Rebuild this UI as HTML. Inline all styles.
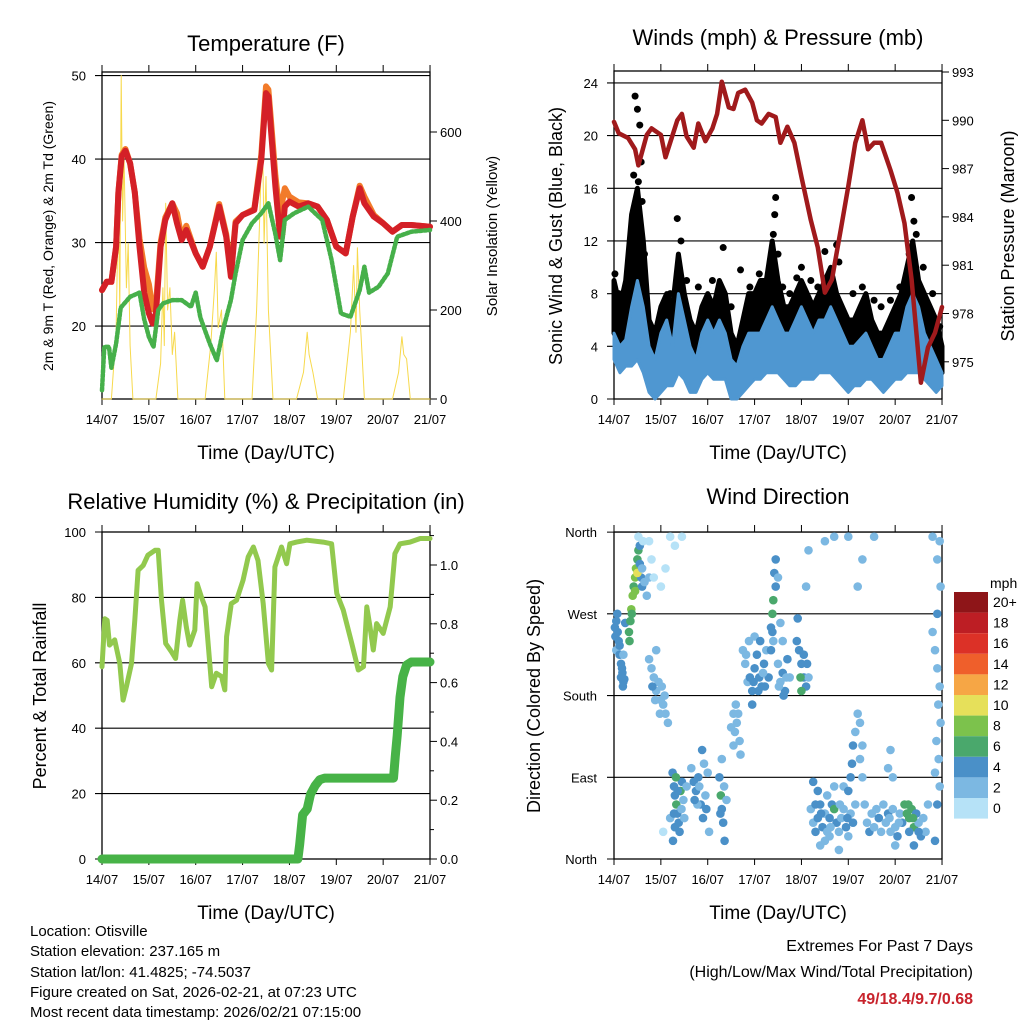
<!DOCTYPE html>
<html><head><meta charset="utf-8">
<style>
body{margin:0;background:#fff;}
svg{display:block;font-family:"Liberation Sans",sans-serif;}
</style></head>
<body>
<svg id="c" width="1024" height="1024" viewBox="0 0 1024 1024" xmlns="http://www.w3.org/2000/svg">
<rect width="1024" height="1024" fill="#fff"/>
<text x="266" y="51" font-size="22" text-anchor="middle">Temperature (F)</text>
<text x="778" y="45" font-size="22" text-anchor="middle">Winds (mph) &amp; Pressure (mb)</text>
<text x="266" y="509" font-size="22" text-anchor="middle">Relative Humidity (%) &amp; Precipitation (in)</text>
<text x="778" y="504" font-size="22" text-anchor="middle">Wind Direction</text>
<text x="266" y="459" font-size="19" text-anchor="middle">Time (Day/UTC)</text>
<text x="778" y="459" font-size="19" text-anchor="middle">Time (Day/UTC)</text>
<text x="266" y="919" font-size="19" text-anchor="middle">Time (Day/UTC)</text>
<text x="778" y="919" font-size="19" text-anchor="middle">Time (Day/UTC)</text>
<text transform="translate(53,236) rotate(-90)" font-size="14" text-anchor="middle">2m &amp; 9m T (Red, Orange) &amp; 2m Td (Green)</text>
<text transform="translate(497,236) rotate(-90)" font-size="15" text-anchor="middle">Solar Insolation (Yellow)</text>
<text transform="translate(562,236) rotate(-90)" font-size="18" text-anchor="middle">Sonic Wind &amp; Gust (Blue, Black)</text>
<text transform="translate(1014,236) rotate(-90)" font-size="18" text-anchor="middle">Station Pressure (Maroon)</text>
<text transform="translate(46,696) rotate(-90)" font-size="18" text-anchor="middle">Percent &amp; Total Rainfall</text>
<text transform="translate(540,696) rotate(-90)" font-size="18" text-anchor="middle">Direction (Colored By Speed)</text>
<g font-size="15">
<text x="30" y="936">Location: Otisville</text>
<text x="30" y="956">Station elevation: 237.165 m</text>
<text x="30" y="977">Station lat/lon: 41.4825; -74.5037</text>
<text x="30" y="997">Figure created on Sat, 2026-02-21, at 07:23 UTC</text>
<text x="30" y="1017">Most recent data timestamp: 2026/02/21 07:15:00</text>
</g>
<g font-size="16" text-anchor="end">
<text x="973" y="951">Extremes For Past 7 Days</text>
<text x="973" y="977">(High/Low/Max Wind/Total Precipitation)</text>
<text x="973" y="1004" fill="#c8232c" font-weight="bold">49/18.4/9.7/0.68</text>
</g>
<text x="990" y="588" font-size="14">mph</text>
<g id="layer"></g>
</svg>
<script>
// ---------- data ----------
const dayLabels=["14/07","15/07","16/07","17/07","18/07","19/07","20/07","21/07"];
const tempTimes=[0,0.1,0.2,0.3,0.35,0.42,0.5,0.6,0.7,0.8,0.9,1.0,1.08,1.15,1.25,1.35,1.5,1.6,1.7,1.8,2.0,2.15,2.3,2.5,2.65,2.75,2.85,3.0,3.25,3.4,3.5,3.55,3.6,3.7,3.8,3.85,3.9,4.0,4.2,4.4,4.6,4.8,5.0,5.2,5.35,5.5,5.6,5.8,6.0,6.2,6.4,6.6,7.0];
const tempRed=[24.3,25.3,25.3,29.5,36,40.3,41,39.5,36,29.5,24,21.5,20.3,21.5,29.5,32.7,34.7,32.3,30.3,31.5,28.7,27.1,29.5,34.3,30.7,25.9,32.3,33.3,33.9,39.9,47.9,47.5,43.9,36.7,30.7,31,34.3,34.9,34.3,34.7,34.3,32.7,29.5,28.7,33.1,36.5,34.7,33.1,32.3,31.3,32.1,32.1,31.9];
const tempOrange=[24.3,25.3,25.3,29.5,36,40.5,41.2,39.5,36,30.5,27,25,22,22.5,30,33,34.7,33.5,30.5,32,28.7,27.1,29.5,34.6,31,26.5,32.5,33.3,34,40.5,48.7,48.3,45,38,33,35,36.5,35.5,34.8,34.7,34.3,32.7,29.5,28.7,33.1,36.8,35.5,33.3,32.3,31.3,32.1,32.1,31.9];
const dewTimes=[0,0.05,0.15,0.2,0.3,0.4,0.6,0.8,0.9,1.0,1.1,1.2,1.3,1.5,1.7,1.9,2.0,2.1,2.3,2.45,2.6,2.75,2.85,3.0,3.2,3.4,3.55,3.7,3.8,3.9,4.1,4.4,4.7,4.9,5.1,5.3,5.5,5.6,5.7,5.9,6.1,6.3,6.6,7.0];
const dewValues=[12.3,17.5,17.5,15,17.9,22.2,23.5,24,20.8,18.7,17.5,21.9,22.7,23.1,23.1,22.3,24,21,17.9,15.9,19.9,23.1,26.3,30.3,32.3,33.5,34.7,31,27.9,32.7,33.5,34.3,32.7,27.9,21.5,21.1,24.3,27.1,24,24.7,26.3,30.7,31.3,31.5];
const solarTimes=[0,0.2,0.3,0.35,0.38,0.41,0.44,0.47,0.52,0.56,0.6,0.66,1.15,1.25,1.3,1.33,1.36,1.4,1.45,1.5,1.55,1.62,2.2,2.32,2.4,2.44,2.48,2.55,2.62,3.2,3.3,3.37,3.42,3.46,3.5,3.55,3.65,4.15,4.3,4.38,4.42,4.5,4.6,5.15,5.3,5.37,5.42,5.45,5.5,5.6,6.2,6.33,6.4,6.44,6.5,6.58,7.0];
const solarValues=[0,0,150,450,200,727,400,550,250,350,120,0,0,80,250,120,440,200,250,100,150,0,0,120,250,330,160,200,0,0,200,420,620,350,500,200,0,0,60,150,100,60,0,0,150,300,150,340,200,0,0,60,140,100,90,0,0];
const presTimes=[0,0.1,0.3,0.45,0.52,0.7,0.8,1.0,1.1,1.35,1.45,1.55,1.7,1.8,1.95,2.1,2.2,2.3,2.45,2.55,2.65,2.8,2.95,3.05,3.15,3.3,3.45,3.55,3.7,3.85,4.0,4.2,4.35,4.5,4.65,4.85,5.0,5.15,5.3,5.42,5.55,5.7,5.9,6.05,6.2,6.35,6.55,6.7,6.85,7.0];
const presValues=[989.9,989.2,988.9,988.2,987.2,989.1,989.5,989.1,987.7,990,990.4,989,988.3,989.8,988.7,989.5,990.4,992.4,990.8,990.7,991.7,991.9,991.1,990,989.8,990.4,990.2,988.6,989.6,988.6,986.5,983.8,982.1,979.3,980.1,983.4,985.9,988.6,990,988.2,988.6,988.6,986.9,985.5,983.6,980.1,973.7,975.9,976.8,978.4];
const windTimes=[0,0.125,0.25,0.375,0.5,0.625,0.75,0.875,1,1.125,1.25,1.375,1.5,1.625,1.75,1.875,2,2.125,2.25,2.375,2.5,2.625,2.75,2.875,3,3.125,3.25,3.375,3.5,3.625,3.75,3.875,4,4.125,4.25,4.375,4.5,4.625,4.75,4.875,5,5.125,5.25,5.375,5.5,5.625,5.75,5.875,6,6.125,6.25,6.375,6.5,6.625,6.75,6.875,7];
const windHigh=[5,4,4.5,7,9,7,4,3,5,6,4,8,6,4,3,5,6,5,6,5,3,2.5,4,5,5,5,6,7,6,5,5,6,7,6,5,6,6,7,6,5,4,4,4.5,5,4,3,3,4,5,5,7,8,7,5,4,3,2];
const windLow=[3,2,2.5,2.5,3,2,0.5,0,0.5,1,1,2,1.5,0.5,0.5,1.5,2,1.5,1.5,1.5,0,0,0.5,1,1.5,1.5,2,2,2,1.5,1,1,1.5,1.5,1.5,2,2,2,1.5,1,0.5,1,1,1.5,1.5,1,0.5,1,1.5,1.5,2,2,2,1.5,1,0.5,1];
const gustHigh=[9,7,9,14,16,12,6,5,7,8,7,11,8,6,5,7,8,7,9,8,5,4,6,8,8,9,9,12,9,7,7,8,9,8,7,8,9,10,8,7,6,6,7,8,6,5,5,6,7,8,10,12,9,8,7,6,4];
const gustOutTimes=[0.45,0.5,0.55,0.6,0.58,0.42,1.35,1.43,2.33,3.45,3.43,3.4,4.0,4.5,4.75,4.8,5.55,6.35,6.4,6.3,6.45,0.02,2.7,3.9,0.1,0.3,0.65,1.0,1.2,1.55,1.8,2.1,2.5,2.9,3.1,3.6,3.75,4.2,4.35,5.1,5.3,5.7,5.9,6.1,6.6,6.8,6.95,0.4,0.52,3.5];
const gustOutValues=[23,22,20.8,15,18,17,13.7,12,11.5,15.3,14,12.5,10,11.2,11.7,10.4,7.5,15.3,13.5,11,12.5,9.5,9.8,9.2,8,10,11,6.5,8,9,8.5,9,7,8.5,9.5,8.5,8,9,8.5,8,8.5,7,7.5,8.5,10,8,5.5,13,16.5,11];
const rhTimes=[0,0.06,0.11,0.16,0.27,0.38,0.45,0.52,0.63,0.7,0.77,0.88,0.98,1.13,1.2,1.27,1.36,1.48,1.57,1.66,1.72,1.8,1.87,1.98,2.03,2.12,2.2,2.34,2.44,2.55,2.62,2.66,2.76,2.87,3.01,3.12,3.23,3.33,3.44,3.55,3.62,3.69,3.83,3.94,4.01,4.15,4.37,4.72,4.9,5.01,5.15,5.33,5.47,5.58,5.65,5.72,5.79,5.86,6.0,6.15,6.25,6.36,6.57,6.79,7];
const rhValues=[58.8,73.5,73,65.4,67,59.8,48.6,52.7,59.8,73,88.3,89.8,92.9,94.4,94.4,79.1,65.9,63.4,61.3,73,79.1,71,65.4,70,84.2,80.2,77.1,52.7,56.8,55.8,51.7,68,78.1,79.1,85.2,92.4,95.4,91.3,78.1,59.8,57.8,89.3,95.4,90.3,96.4,96.9,97.5,96.9,96.4,81.2,76.1,65.9,57.8,58.8,77.1,71,63.9,72,69,77.1,93.4,96.4,96.9,98,98];
const rainTimes=[0,4.18,4.22,4.28,4.38,4.45,4.55,4.65,4.75,6.22,6.26,6.3,6.36,6.42,6.5,6.6,7];
const rainValues=[0,0,0.05,0.15,0.17,0.22,0.25,0.27,0.275,0.275,0.35,0.42,0.55,0.62,0.66,0.67,0.67];
// wind direction points: [day, direction(deg), speed(mph)]
const dirPoints=[[0.02,255,4],[0.05,262,4],[0.08,250,4],[0.1,240,4],[0.05,230,3],[0.12,225,4],[0.15,215,4],[0.18,205,4],[0.2,195,4],[0.22,198,4],[0.17,210,4],[0.12,235,4],[0.03,245,4],[0.2,225,3],[0.24,260,4],[0.07,270,4],[0.15,200,4],[0.19,190,4],
[0.32,250,6],[0.35,262,7],[0.37,275,8],[0.4,290,8],[0.42,300,7],[0.45,310,9],[0.47,320,8],[0.5,330,7],[0.52,340,6],[0.55,325,5],[0.58,310,4],[0.6,300,4],[0.55,345,4],[0.38,270,7],[0.33,240,6],[0.45,295,8],[0.5,315,10],[0.6,320,3],[0.65,305,2],[0.7,290,2],[0.75,310,2],[0.52,355,1],[0.62,350,1],
[0.75,220,3],[0.8,210,2],[0.85,200,3],[0.9,185,2],[0.95,195,3],[1.0,175,2],[1.05,170,3],[1.1,160,2],[0.82,190,5],[1.15,150,3],[0.9,230,2],[1.0,300,1],[1.1,320,1],[0.85,310,1],[0.8,330,1],[0.75,350,1],[1.2,355,1],[1.3,345,1],[1.45,355,1],[0.88,175,3],[0.98,160,3],[1.02,190,2],[1.08,180,3],
[1.25,95,4],[1.28,80,4],[1.3,70,5],[1.33,60,6],[1.35,50,4],[1.38,40,4],[1.4,30,4],[1.42,75,6],[1.45,85,4],[1.48,65,3],[1.5,45,3],[1.3,35,4],[1.26,20,4],[1.2,45,3],[1.55,80,3],[1.05,30,1],[1.32,90,6],[1.36,75,5],[1.44,55,3],[1.28,50,4],
[1.65,100,3],[1.7,85,4],[1.75,75,4],[1.8,90,4],[1.85,60,4],[1.9,45,4],[1.95,70,3],[2.0,95,3],[1.88,120,4],[1.78,60,2],[2.03,30,3],[1.92,105,3],[1.72,65,4],[1.82,80,3],[1.97,55,4],
[2.25,90,4],[2.28,70,6],[2.3,55,4],[2.33,40,4],[2.36,20,4],[2.3,110,3],[2.4,65,3],[2.27,50,5],[2.35,80,3],
[2.5,145,3],[2.55,160,3],[2.6,170,3],[2.62,150,3],[2.68,130,3],[2.7,115,3],[2.55,125,2],[2.58,140,3],[2.65,160,3],
[2.75,230,3],[2.8,215,2],[2.85,195,3],[2.9,200,4],[2.95,185,4],[3.0,210,4],[3.05,225,4],[3.1,200,4],[3.15,190,4],[3.2,215,4],[3.25,230,3],[3.3,200,4],[2.88,240,3],[3.0,245,3],[3.12,240,4],[2.95,170,4],[2.82,225,3],[2.98,195,4],[3.08,185,4],[3.18,205,3],[3.22,190,4],
[3.35,255,5],[3.38,270,7],[3.4,285,7],[3.45,300,4],[3.42,315,4],[3.45,330,4],[3.5,310,3],[3.35,230,4],[3.38,250,4],[3.4,240,3],
[3.5,215,3],[3.55,195,3],[3.6,205,4],[3.65,185,4],[3.7,220,4],[3.75,200,3],[3.6,240,2],[3.55,260,3],[3.52,190,3],[3.62,180,4],[3.68,200,3],
[3.9,240,4],[3.95,230,4],[4.0,215,4],[4.05,200,5],[4.1,190,4],[4.0,185,6],[4.12,215,4],[3.92,265,4],[4.15,200,3],[4.1,300,3],[4.15,340,2],[3.98,200,6],[4.05,225,4],
[4.2,55,3],[4.25,40,3],[4.3,30,4],[4.35,45,4],[4.4,60,4],[4.45,35,4],[4.5,50,3],[4.55,70,3],[4.6,45,4],[4.65,60,5],[4.7,55,6],[4.75,40,5],[4.8,30,3],[4.85,45,3],[4.9,55,3],[4.95,35,4],[5.0,25,3],[5.05,50,3],[5.1,40,4],[4.4,15,3],[4.5,20,2],[4.6,25,3],[4.7,80,3],[4.9,80,3],[4.35,75,4],[5.15,60,3],[4.25,85,4],[4.8,10,2],[4.55,30,3],[4.3,60,4],[4.42,50,4],[4.62,35,3],[4.82,60,3],[4.98,45,4],
[5.0,75,4],[5.05,90,4],[5.08,105,4],[5.1,125,4],[5.15,140,3],[5.2,160,3],[5.25,150,3],[5.3,125,3],[5.25,110,3],[5.3,90,3],[5.35,60,3],[5.4,40,3],[5.45,30,4],[5.5,50,3],[5.55,35,3],[5.6,55,3],[5.65,45,4],[5.7,30,3],[5.2,300,2],[5.3,330,3],[5.55,355,3],[4.7,355,3],[4.5,350,3],[5.0,355,3],
[5.75,60,3],[5.8,40,3],[5.85,50,4],[5.9,30,3],[5.95,55,3],[6.0,35,3],[6.05,25,4],[6.1,50,3],[6.15,40,4],[6.2,60,6],[6.25,50,6],[6.3,45,7],[6.35,55,6],[6.4,35,6],[6.3,30,5],[6.45,50,4],[6.5,40,3],[6.55,25,4],[6.6,45,3],[6.65,30,3],[6.7,60,3],[6.4,15,4],[6.0,15,3],[5.85,100,3],[5.9,120,2],[5.95,90,3],[5.88,45,3],[6.08,40,3],[6.28,60,6],[6.38,45,7],[6.5,30,4],
[6.8,250,3],[6.85,230,2],[6.9,210,3],[6.95,190,2],[6.92,170,3],[6.97,150,2],[6.88,130,3],[6.93,110,2],[6.85,95,2],[6.95,80,3],[6.9,60,4],[6.85,20,4],[6.95,350,2],[6.9,330,3],[6.8,355,2],[6.97,300,3],[6.9,270,4]];
const cbLabels=["20+","18","16","14","12","10","8","6","4","2","0"];
const cbColors=["#8e1518","#bd1e24","#dc3127","#ef5f2b","#f6a645","#e6e05a","#7cc24c","#4aa86c","#4a90c8","#7cb8e2","#b6e2f7"];
// ---------- helpers ----------
const NS="http://www.w3.org/2000/svg";
const layer=document.getElementById('layer');
function mk(tag,attrs,parent){const e=document.createElementNS(NS,tag);for(const k in attrs)e.setAttribute(k,attrs[k]);(parent||layer).appendChild(e);return e;}
const XL=d=>102+d*46.86, XR=d=>614+d*46.86;
const yTemp=t=>399-(t-11.26)*8.35, ySolar=s=>399-s*0.445;
const yWind=w=>399-w*13.17, yPres=p=>72+(993-p)*16.1;
const yRH=r=>859-r*3.27, yRain=p=>859-p*294;
const yDir=d=>859-d*0.908;
function pts(ts,vs,fx,fy){return ts.map((t,i)=>fx(t).toFixed(1)+','+fy(vs[i]).toFixed(1)).join(' ');}
function frame(x0,x1,y0,y1,name){
  const g=mk('g',{});
  
  
  mk('rect',{x:x0,y:y0,width:x1-x0,height:y1-y0,fill:'none',stroke:'#000','stroke-width':1.3},g);
  for(let i=0;i<8;i++){const x=x0+i*46.86;
    mk('line',{x1:x,x2:x,y1:y1,y2:y1+6,stroke:'#000'},g);
    mk('line',{x1:x,x2:x,y1:y0,y2:y0-7,stroke:'#000'},g);
    const t=mk('text',{x:x,y:y1+25,'font-size':13,'text-anchor':'middle'},g);t.textContent=dayLabels[i];
    
    
  }
}
function grid(vals,fy,x0,x1,labels,lx,anchor,name){
  vals.forEach((v,i)=>{const y=fy(v);
    mk('line',{x1:x0-7,x2:x1,y1:y,y2:y,stroke:'#000','stroke-width':1.1});
    if(labels){const t=mk('text',{x:lx,y:y+5,'font-size':13,'text-anchor':anchor});t.textContent=labels[i];
      
      }
  });
}
function rightAxis(vals,fy,x,labels,name){
  vals.forEach((v,i)=>{const y=fy(v);
    mk('line',{x1:x,x2:x+7,y1:y,y2:y,stroke:'#000'});
    const t=mk('text',{x:x+10,y:y+5,'font-size':13});t.textContent=labels[i];
    
    
  });
}
function line(ts,vs,fx,fy,color,w,name,extra){
  const e=mk('polyline',Object.assign({points:pts(ts,vs,fx,fy),fill:'none',stroke:color,'stroke-width':w,'stroke-linejoin':'round','stroke-linecap':'round'},extra||{}));
  
  
  return e;
}
// ---------- temperature panel ----------
frame(102,430,72,399,'temperature');
grid([20,30,40,50],yTemp,102,430,["20","30","40","50"],86,'end','temp');
rightAxis([0,200,400,600],ySolar,430,["0","200","400","600"],'solar');
line(solarTimes,solarValues,XL,ySolar,'#f7d94c',1,'solar-line');
line(tempTimes,tempOrange,XL,yTemp,'#f27b2a',6,'temp-9m-line');
line(tempTimes,tempRed,XL,yTemp,'#d42027',6,'temp-2m-line');
line(dewTimes,dewValues,XL,yTemp,'#46b04a',4.5,'dewpoint-line',{'stroke-dasharray':'2.5,2'});
// ---------- winds panel ----------
frame(614,942,71,399,'winds');
grid([0,4,8,12,16,20,24],yWind,614,942,["0","4","8","12","16","20","24"],598,'end','wind');
rightAxis([975,978,981,984,987,990,993],yPres,942,["975","978","981","984","987","990","993"],'pressure');
{const up=windTimes.map((t,i)=>XR(t).toFixed(1)+','+yWind(gustHigh[i]).toFixed(1));
 const dn=windTimes.map((t,i)=>XR(t).toFixed(1)+','+yWind(windHigh[i]).toFixed(1)).reverse();
 const e=mk('polygon',{points:up.concat(dn).join(' '),fill:'#000',stroke:'#000','stroke-width':5,'stroke-linejoin':'round'});
 
 }
gustOutTimes.forEach((t,i)=>{const c=mk('circle',{cx:XR(t),cy:yWind(gustOutValues[i]),r:3.5,fill:'#000'});
 
 });
{const up=windTimes.map((t,i)=>XR(t).toFixed(1)+','+yWind(windHigh[i]).toFixed(1));
 const dn=windTimes.map((t,i)=>XR(t).toFixed(1)+','+yWind(windLow[i]).toFixed(1)).reverse();
 const e=mk('polygon',{points:up.concat(dn).join(' '),fill:'#4f97d1',stroke:'#4f97d1','stroke-width':3,'stroke-linejoin':'round'});
 
 }
line(presTimes,presValues,XR,yPres,'#a01a1c',4.5,'pressure-line');
// ---------- humidity panel ----------
frame(102,430,532,859,'humidity');
grid([0,20,40,60,80,100],yRH,102,430,["0","20","40","60","80","100"],86,'end','rh');
rightAxis([0,0.2,0.4,0.6,0.8,1.0],yRain,430,["0.0","0.2","0.4","0.6","0.8","1.0"],'rain');
[0.1,0.3,0.5,0.7,0.9,1.1].forEach(v=>mk('line',{x1:430,x2:434,y1:yRain(v),y2:yRain(v),stroke:'#000'}));
line(rhTimes,rhValues,XL,yRH,'#92c94e',5,'humidity-line');
line(rainTimes,rainValues,XL,yRain,'#47b347',9,'precip-line');
// ---------- wind direction panel ----------
frame(614,942,532,859,'direction');
grid([0,90,180,270,360],yDir,614,942,["North","East","South","West","North"],597,'end','dir');
dirPoints.forEach(p=>{
  const idx=Math.max(0,Math.min(10,10-Math.floor(p[2]/2)));
  const c=mk('circle',{cx:XR(p[0]).toFixed(1),cy:yDir(p[1]).toFixed(1),r:4.3,fill:cbColors[idx]});
  
  
});
// colorbar
cbColors.forEach((col,i)=>{
  const y=592+i*20.6;
  const r=mk('rect',{x:954,y:y,width:34,height:20.6,fill:col});
  
  
  const t=mk('text',{x:993,y:y+15,'font-size':14});t.textContent=cbLabels[i];
  
  
});
</script>
</body></html>
